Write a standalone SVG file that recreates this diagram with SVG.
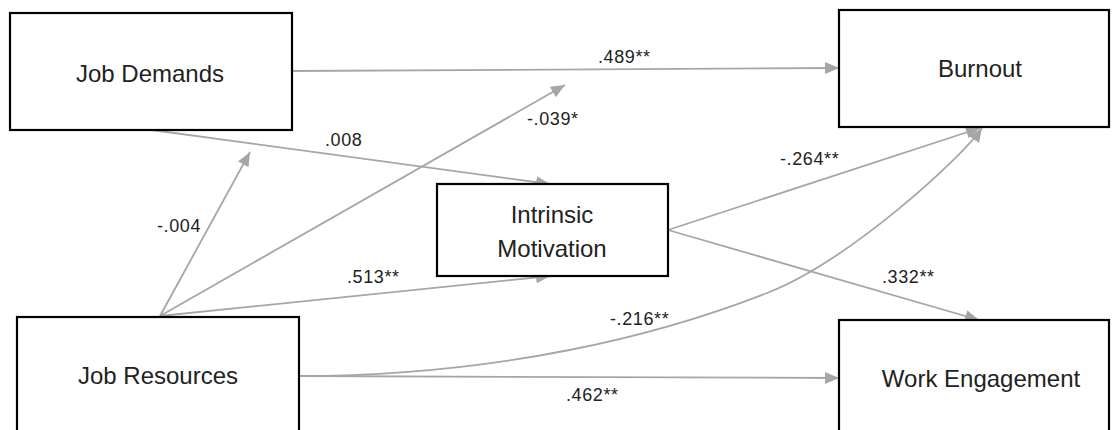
<svg xmlns="http://www.w3.org/2000/svg" width="1113" height="430" viewBox="0 0 1113 430">
<style>
.box{fill:#fff;stroke:#000;stroke-width:2.2}
.nt{font-family:"Liberation Sans",Arial,sans-serif;font-size:24px;fill:#222;text-anchor:middle}
.lb{font-family:"Liberation Sans",Arial,sans-serif;font-size:18px;letter-spacing:0.6px;fill:#222}
.cn{fill:none;stroke:#a6a6a6;stroke-width:1.8;marker-end:url(#ah)}
</style>
<defs>
<marker id="ah" markerUnits="userSpaceOnUse" markerWidth="15" markerHeight="12" refX="14" refY="6" orient="auto">
<path d="M0,0 L14,6 L0,12 z" fill="#a6a6a6"/>
</marker>
</defs>
<rect width="1113" height="430" fill="#fff"/>
<g id="connectors">
<path class="cn" d="M292,71 L839,68"/>
<path class="cn" d="M152,130 L550,184"/>
<path class="cn" d="M160,316 L250,152"/>
<path class="cn" d="M160,316 L565,85"/>
<path class="cn" d="M160,316 L550,276"/>
<path class="cn" d="M668,230 L980,128"/>
<path class="cn" d="M668,230 L979,320"/>
<path class="cn" d="M298,376 C500,376 660,335 767,293 C847,262 960,160 982,128"/>
<path class="cn" d="M298,376 L839,378"/>
</g>
<g id="labels">
<text class="lb" x="598" y="63">.489**</text>
<text class="lb" x="325" y="146">.008</text>
<text class="lb" x="157" y="232">-.004</text>
<text class="lb" x="527" y="125">-.039*</text>
<text class="lb" x="347" y="283">.513**</text>
<text class="lb" x="780" y="165">-.264**</text>
<text class="lb" x="882" y="283">.332**</text>
<text class="lb" x="610" y="325">-.216**</text>
<text class="lb" x="566" y="401">.462**</text>
</g>
<g id="job-demands">
<rect class="box" x="10" y="13" width="282" height="117"/>
<text class="nt" x="150" y="82">Job Demands</text>
</g>
<g id="burnout">
<rect class="box" x="839" y="10" width="270" height="117"/>
<text class="nt" x="980" y="77">Burnout</text>
</g>
<g id="intrinsic-motivation">
<rect class="box" x="437" y="184" width="231" height="92"/>
<text class="nt" x="552" y="223">Intrinsic</text>
<text class="nt" x="552" y="257">Motivation</text>
</g>
<g id="job-resources">
<rect class="box" x="17" y="317" width="282" height="130"/>
<text class="nt" x="158" y="384">Job Resources</text>
</g>
<g id="work-engagement">
<rect class="box" x="839" y="320" width="270" height="130"/>
<text class="nt" x="981" y="387">Work Engagement</text>
</g>
</svg>
